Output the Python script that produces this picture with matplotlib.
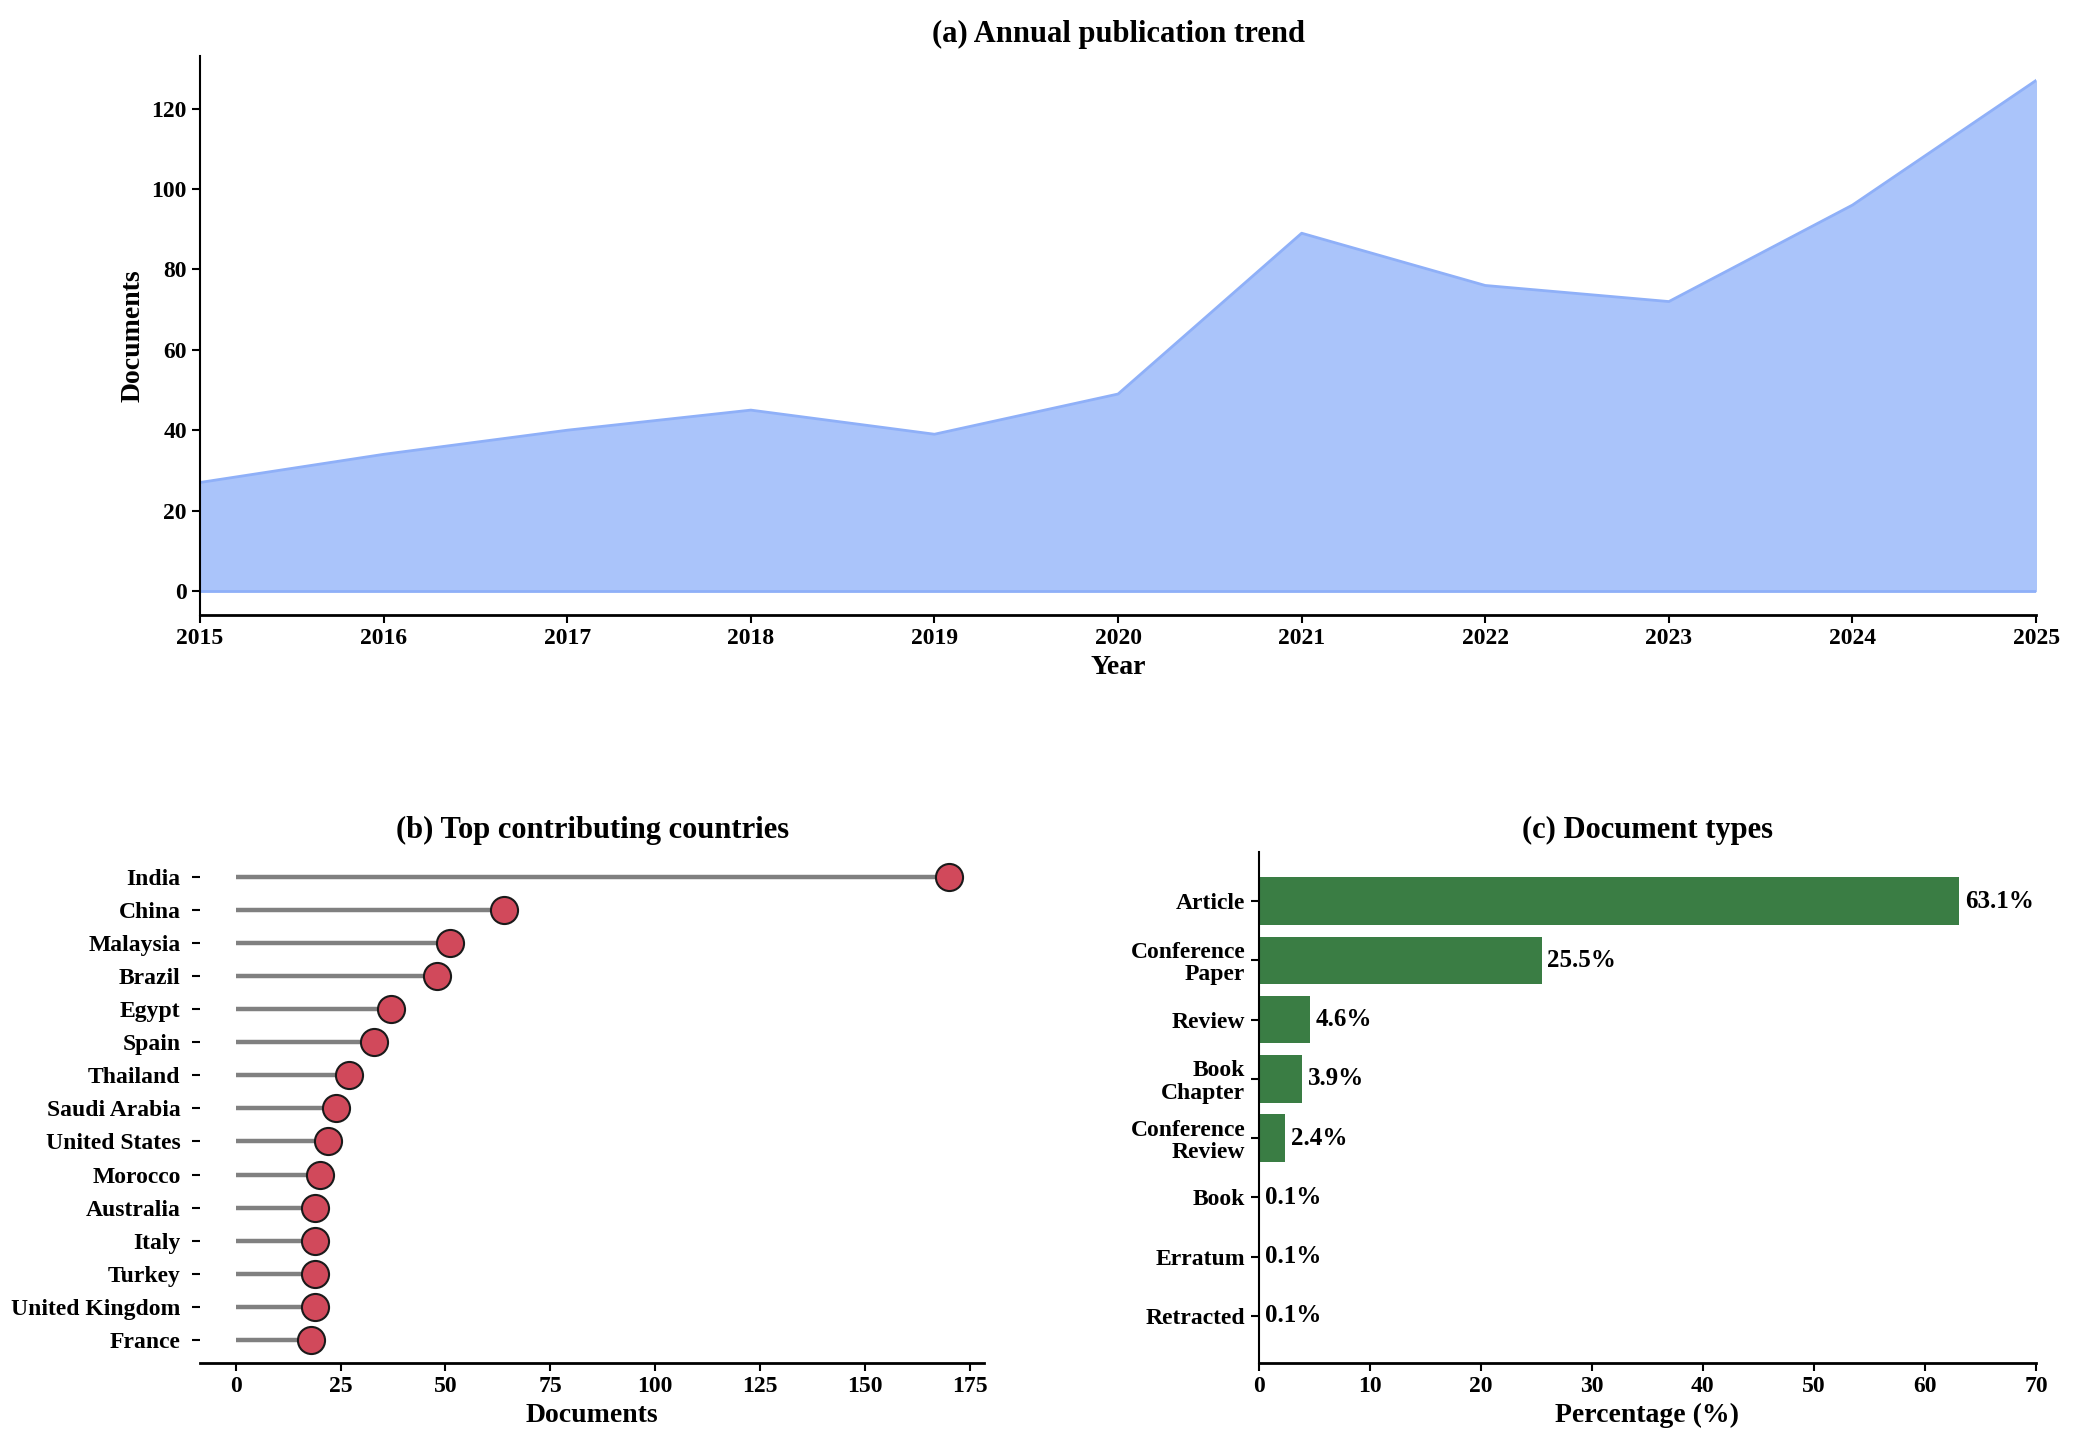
import matplotlib
matplotlib.use("Agg")
import matplotlib.pyplot as plt
import numpy as np

plt.rcParams['font.family'] = ['Liberation Serif', 'DejaVu Serif']
plt.rcParams['font.weight'] = 'bold'

years = [2015, 2016, 2017, 2018, 2019, 2020, 2021, 2022, 2023, 2024, 2025]
docs_per_year = [27, 34, 40, 45, 39, 49, 89, 76, 72, 96, 127]

countries = ["India", "China", "Malaysia", "Brazil", "Egypt", "Spain", "Thailand",
             "Saudi Arabia", "United States", "Morocco", "Australia", "Italy",
             "Turkey", "United Kingdom", "France"]
country_docs = [170, 64, 51, 48, 37, 33, 27, 24, 22, 20, 19, 19, 19, 19, 18]

doc_types = ["Article", "Conference\nPaper", "Review", "Book\nChapter",
             "Conference\nReview", "Book", "Erratum", "Retracted"]
doc_pct = [63.1, 25.5, 4.6, 3.9, 2.4, 0.1, 0.1, 0.1]

fig = plt.figure(figsize=(20.77, 14.44), dpi=100)

TICK = 17
LAB = 20
TIT = 22

# (a)
ax1 = fig.add_axes([0.0963, 0.574, 0.884, 0.387])
ax1.fill_between(years, docs_per_year, color='#aac4fa', zorder=1)
ax1.plot(years, docs_per_year, color='#8fb0f8', lw=2, zorder=2)
ax1.plot([years[0], years[-1]], [0, 0], color='#8fb0f8', lw=2, zorder=2)
ax1.set_xlim(2015, 2025)
ax1.set_ylim(-6, 133)
ax1.set_xticks(years)
ax1.set_yticks(np.arange(0, 121, 20))
ax1.set_xlabel("Year", fontsize=LAB, fontweight='bold', labelpad=4)
ax1.set_ylabel("Documents", fontsize=LAB, fontweight='bold')
ax1.set_title("(a) Annual publication trend", fontsize=TIT, fontweight='bold', pad=10)
for s in ['top', 'right']:
    ax1.spines[s].set_visible(False)
ax1.spines['left'].set_linewidth(1.5)
ax1.spines['bottom'].set_linewidth(2)
ax1.tick_params(labelsize=TICK, width=1.5, length=6)

# (b)
ax2 = fig.add_axes([0.0963, 0.056, 0.3777, 0.354])
ypos = np.arange(len(countries))
ax2.hlines(ypos, 0, country_docs, color='#808080', lw=3.2, zorder=1)
ax2.plot(country_docs, ypos, 'o', color='#d1495b', markeredgecolor='#1a1a1a',
         markeredgewidth=1.5, markersize=19.5, zorder=2)
ax2.set_yticks(ypos)
ax2.set_yticklabels(countries)
ax2.set_ylim(14.7, -0.75)
ax2.set_xlim(-8.5, 178.5)
ax2.set_xticks(np.arange(0, 176, 25))
ax2.set_xlabel("Documents", fontsize=LAB, fontweight='bold', labelpad=4)
ax2.set_title("(b) Top contributing countries", fontsize=TIT, fontweight='bold', pad=10)
for s in ['top', 'right', 'left']:
    ax2.spines[s].set_visible(False)
ax2.spines['bottom'].set_linewidth(2)
ax2.tick_params(labelsize=TICK, width=1.5, length=6)
ax2.tick_params(axis='y', pad=8)

# (c)
ax3 = fig.add_axes([0.606, 0.056, 0.3743, 0.354])
ypos3 = np.arange(len(doc_types))
ax3.barh(ypos3, doc_pct, height=0.8, color='#3a7d44', zorder=2)
for y, v in zip(ypos3, doc_pct):
    ax3.text(v + 0.5, y, f"{v}%", va='center', ha='left', fontsize=18, fontweight='bold')
ax3.set_yticks(ypos3)
ax3.set_yticklabels(doc_types, linespacing=1.1)
ax3.set_ylim(7.8, -0.83)
ax3.set_xlim(0, 70)
ax3.set_xticks(np.arange(0, 71, 10))
ax3.set_xlabel("Percentage (%)", fontsize=LAB, fontweight='bold', labelpad=4)
ax3.set_title("(c) Document types", fontsize=TIT, fontweight='bold', pad=10)
for s in ['top', 'right']:
    ax3.spines[s].set_visible(False)
ax3.spines['left'].set_linewidth(1.5)
ax3.spines['bottom'].set_linewidth(2)
ax3.tick_params(labelsize=TICK, width=1.5, length=6)

fig.savefig("out.png", dpi=100)
